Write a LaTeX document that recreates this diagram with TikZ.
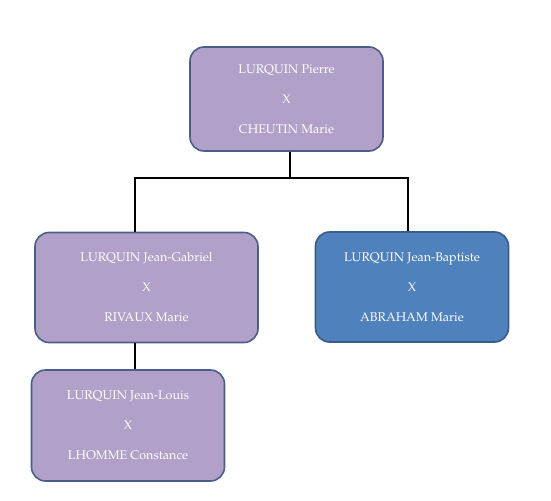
\documentclass[tikz,border=0pt]{standalone}
\usepackage[T1]{fontenc}
\usepackage{mathpazo}
\usepackage{xcolor}
\usepackage{tikz}
\definecolor{famlilac}{HTML}{B1A0C7}
\definecolor{famblue}{HTML}{4F81BD}
\definecolor{famedge}{HTML}{4A5E8C}
\definecolor{famedgeb}{HTML}{385D8A}

\tikzset{
  couple/.style={draw=famedge,fill=famlilac,line width=1.6pt,rounded corners=14bp,
    text=white,font=\fontsize{12.6}{14}\selectfont,align=center,
    minimum width=193bp,minimum height=104bp,inner sep=0pt},
  coupleb/.style={couple,draw=famedgeb,fill=famblue},
  link/.style={line width=1.2pt,black}
}

\begin{document}
\begin{tikzpicture}[x=1bp,y=-1bp]
  \useasboundingbox (0,0) rectangle (551,501);
  \node[couple] (pierre) at (286.5,99) {LURQUIN Pierre\\[16bp]X\\[16bp]CHEUTIN Marie};
  \node[couple,minimum width=223bp,minimum height=110bp] (jgab) at (146.5,287.5) {LURQUIN Jean-Gabriel\\[16bp]X\\[16bp]RIVAUX Marie};
  \node[coupleb,minimum height=110bp] (jbap) at (412,287) {LURQUIN Jean-Baptiste\\[16bp]X\\[16bp]ABRAHAM Marie};
  \node[couple,minimum height=111bp] (jlou) at (128,425.5) {LURQUIN Jean-Louis\\[16bp]X\\[16bp]LHOMME Constance};
  % branches
  \coordinate (split) at (290,178);
  \coordinate (left) at (135,178);
  \coordinate (right) at (408,178);
  \draw[link] (split |- pierre.south) -- (split);
  \draw[link] (left |- jgab.north) -- (left) -- (right) -- (right |- jbap.north);
  \draw[link] (left |- jgab.south) -- (left |- jlou.north);
\end{tikzpicture}
\end{document}
